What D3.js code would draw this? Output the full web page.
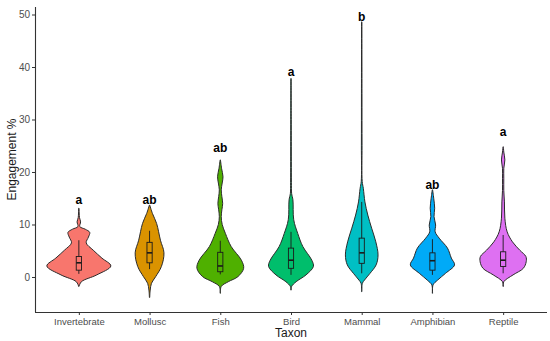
<!DOCTYPE html>
<head>
  <meta charset="utf-8">
  <script src="https://d3js.org/d3.v7.min.js"></script>
  <style>
    body { margin: 0; background: #fff; }
    text { font-family: "Liberation Sans", Arial, sans-serif; }
  </style>
</head>
<body>
<svg width="550" height="341"></svg>
<script>

  // categories and colours
  let taxa = ["Invertebrate", "Mollusc", "Fish", "Bird", "Mammal", "Amphibian", "Reptile"];
  let colors = ["#F8766D", "#DA9300", "#4FB000", "#00BE6C", "#00BFC4", "#00AAF7", "#DE70F2"];
  let letters = ["a", "ab", "ab", "a", "b", "ab", "a"];
  let letterY = [14.7, 14.7, 24.7, 39.1, 49.6, 17.5, 27.6];
  let yTicks = [0, 10, 20, 30, 40, 50];

  // violin profiles: [engagement %, relative density]
  let invertebrate = [[-1.8, 0.005], [-0.9, 0.08], [0.4, 0.56], [2.1, 1.0], [3.6, 0.72], [5.1, 0.45], [6.5, 0.23],
    [7.6, 0.3], [8.5, 0.34], [9.1, 0.2], [9.6, 0.03], [10.5, 0.055], [11.3, 0.02], [12.2, 0.01], [13.1, 0.005]];
  let mollusc = [[-3.9, 0.005], [-2.5, 0.02], [-1.2, 0.06], [0.06, 0.19], [2.0, 0.37], [4.6, 0.45], [7.0, 0.34],
    [10.2, 0.22], [12.1, 0.09], [13.7, 0.005]];
  let fish = [[-3.1, 0.005], [-1.8, 0.03], [-0.9, 0.25], [0.06, 0.55], [1.65, 0.73], [3.2, 0.66], [5.8, 0.34],
    [8.3, 0.16], [10.0, 0.06], [11.5, 0.03], [12.8, 0.05], [14.0, 0.075], [15.3, 0.05], [16.6, 0.03],
    [17.9, 0.06], [19.1, 0.085], [20.7, 0.04], [22.3, 0.005]];
  let bird = [[-2.5, 0.005], [-1.8, 0.02], [-0.9, 0.16], [0.4, 0.47], [2.0, 0.70], [3.2, 0.65], [5.8, 0.37],
    [8.3, 0.21], [10.9, 0.085], [14.7, 0.06], [15.9, 0.02], [18, 0.012], [22, 0.01], [30, 0.008], [37.8, 0.005]];
  let mammal = [[-2.8, 0.005], [-1.2, 0.02], [-0.6, 0.085], [0.7, 0.26], [2.3, 0.45], [4.2, 0.51], [6.7, 0.44],
    [9.3, 0.31], [11.8, 0.19], [14.3, 0.1], [16.9, 0.05], [18.2, 0.015], [25, 0.01], [35, 0.008], [48.6, 0.005]];
  let amphibian = [[-3.1, 0.005], [-1.5, 0.02], [-0.6, 0.16], [0.7, 0.41], [2.3, 0.69], [3.6, 0.59], [5.5, 0.47],
    [7.4, 0.21], [8.6, 0.085], [9.9, 0.10], [11.5, 0.05], [13.1, 0.07], [15.0, 0.04], [16.6, 0.005]];
  let reptile = [[-1.8, 0.005], [-0.9, 0.02], [0.4, 0.31], [1.65, 0.63], [2.9, 0.72], [3.9, 0.71], [5.1, 0.52],
    [6.7, 0.29], [8.6, 0.125], [11.2, 0.053], [14.3, 0.04], [16.5, 0.02], [18.8, 0.02], [20.7, 0.02],
    [22.3, 0.053], [23.8, 0.02], [24.8, 0.005]];
  let profiles = [invertebrate, mollusc, fish, bird, mammal, amphibian, reptile];

  // boxplot stats: lower whisker, q1, median, q3, upper whisker
  let boxStats = [
    [0.6, 1.3, 2.7, 3.9, 7.0],
    [1.5, 2.7, 4.6, 6.6, 8.8],
    [0.5, 1.0, 2.1, 4.7, 6.9],
    [0.4, 1.65, 3.2, 5.5, 8.6],
    [0.7, 2.6, 4.6, 7.4, 14.3],
    [0.4, 1.3, 3.1, 4.6, 7.2],
    [0.7, 2.0, 3.2, 4.8, 8.0]
  ];

  let svg = d3.select("svg"),
    plotLeft = 35, plotRight = 547, plotTop = 7, plotBottom = 312;

  let x = d3.scalePoint().domain(taxa).range([plotLeft, plotRight]).padding(0.62);
  let y = d3.scaleLinear().domain([-6.67, 51.43]).range([plotBottom, plotTop]);
  let w = d3.scaleLinear().domain([0, 1]).range([0, 32]);

  // violins
  taxa.forEach(function (t, i) {
    let cx = x(t);
    let area = d3.area()
      .y(function (d) { return y(d[0]); })
      .x0(function (d) { return cx - w(d[1]); })
      .x1(function (d) { return cx + w(d[1]); })
      .curve(d3.curveCatmullRom);
    svg.append("path")
      .attr("d", area(profiles[i]))
      .attr("fill", colors[i])
      .attr("stroke", "#2b2b2b")
      .attr("stroke-width", 1);

    let s = boxStats[i], bw = 2.6;
    svg.append("line")
      .attr("x1", cx).attr("x2", cx)
      .attr("y1", y(s[0])).attr("y2", y(s[4]))
      .attr("stroke", "#1a1a1a").attr("stroke-width", 0.9);
    svg.append("rect")
      .attr("x", cx - bw).attr("width", bw * 2)
      .attr("y", y(s[3])).attr("height", y(s[1]) - y(s[3]))
      .attr("fill", colors[i])
      .attr("stroke", "#1a1a1a").attr("stroke-width", 0.9);
    svg.append("line")
      .attr("x1", cx - bw).attr("x2", cx + bw)
      .attr("y1", y(s[2])).attr("y2", y(s[2]))
      .attr("stroke", "#1a1a1a").attr("stroke-width", 1.6);

    svg.append("text")
      .attr("x", cx).attr("y", y(letterY[i]))
      .attr("dy", "0.35em")
      .attr("text-anchor", "middle")
      .attr("font-size", 12)
      .attr("font-weight", "bold")
      .attr("fill", "#000")
      .text(letters[i]);
  });

  // axes
  let yAxis = svg.append("g")
    .attr("transform", "translate(" + plotLeft + ",0)")
    .call(d3.axisLeft(y).tickValues(yTicks).tickSize(3).tickPadding(2).tickSizeOuter(0));
  let xAxis = svg.append("g")
    .attr("transform", "translate(0," + plotBottom + ")")
    .call(d3.axisBottom(x).tickSize(3).tickPadding(3).tickSizeOuter(0));

  [xAxis, yAxis].forEach(function (g) {
    g.select(".domain").attr("stroke", "#333").attr("stroke-width", 1.1);
    g.selectAll(".tick line").attr("stroke", "#333");
    g.selectAll(".tick text").attr("fill", "#4d4d4d").attr("font-size", 9.5)
      .style("font-family", "'Liberation Sans', Arial, sans-serif");
  });
  yAxis.selectAll(".tick text").attr("font-size", 10);
  xAxis.select(".domain").attr("d", "M" + plotLeft + ",0.5H" + plotRight);
  yAxis.select(".domain").attr("d", "M0.5," + plotTop + "V" + plotBottom);

  svg.append("text")
    .attr("x", (plotLeft + plotRight) / 2).attr("y", 337)
    .attr("text-anchor", "middle")
    .attr("font-size", 12)
    .attr("fill", "#1a1a1a")
    .text("Taxon");

  svg.append("text")
    .attr("transform", "translate(16," + (plotTop + plotBottom) / 2 + ") rotate(-90)")
    .attr("text-anchor", "middle")
    .attr("font-size", 12)
    .attr("fill", "#1a1a1a")
    .text("Engagement %");

</script>
</body>
